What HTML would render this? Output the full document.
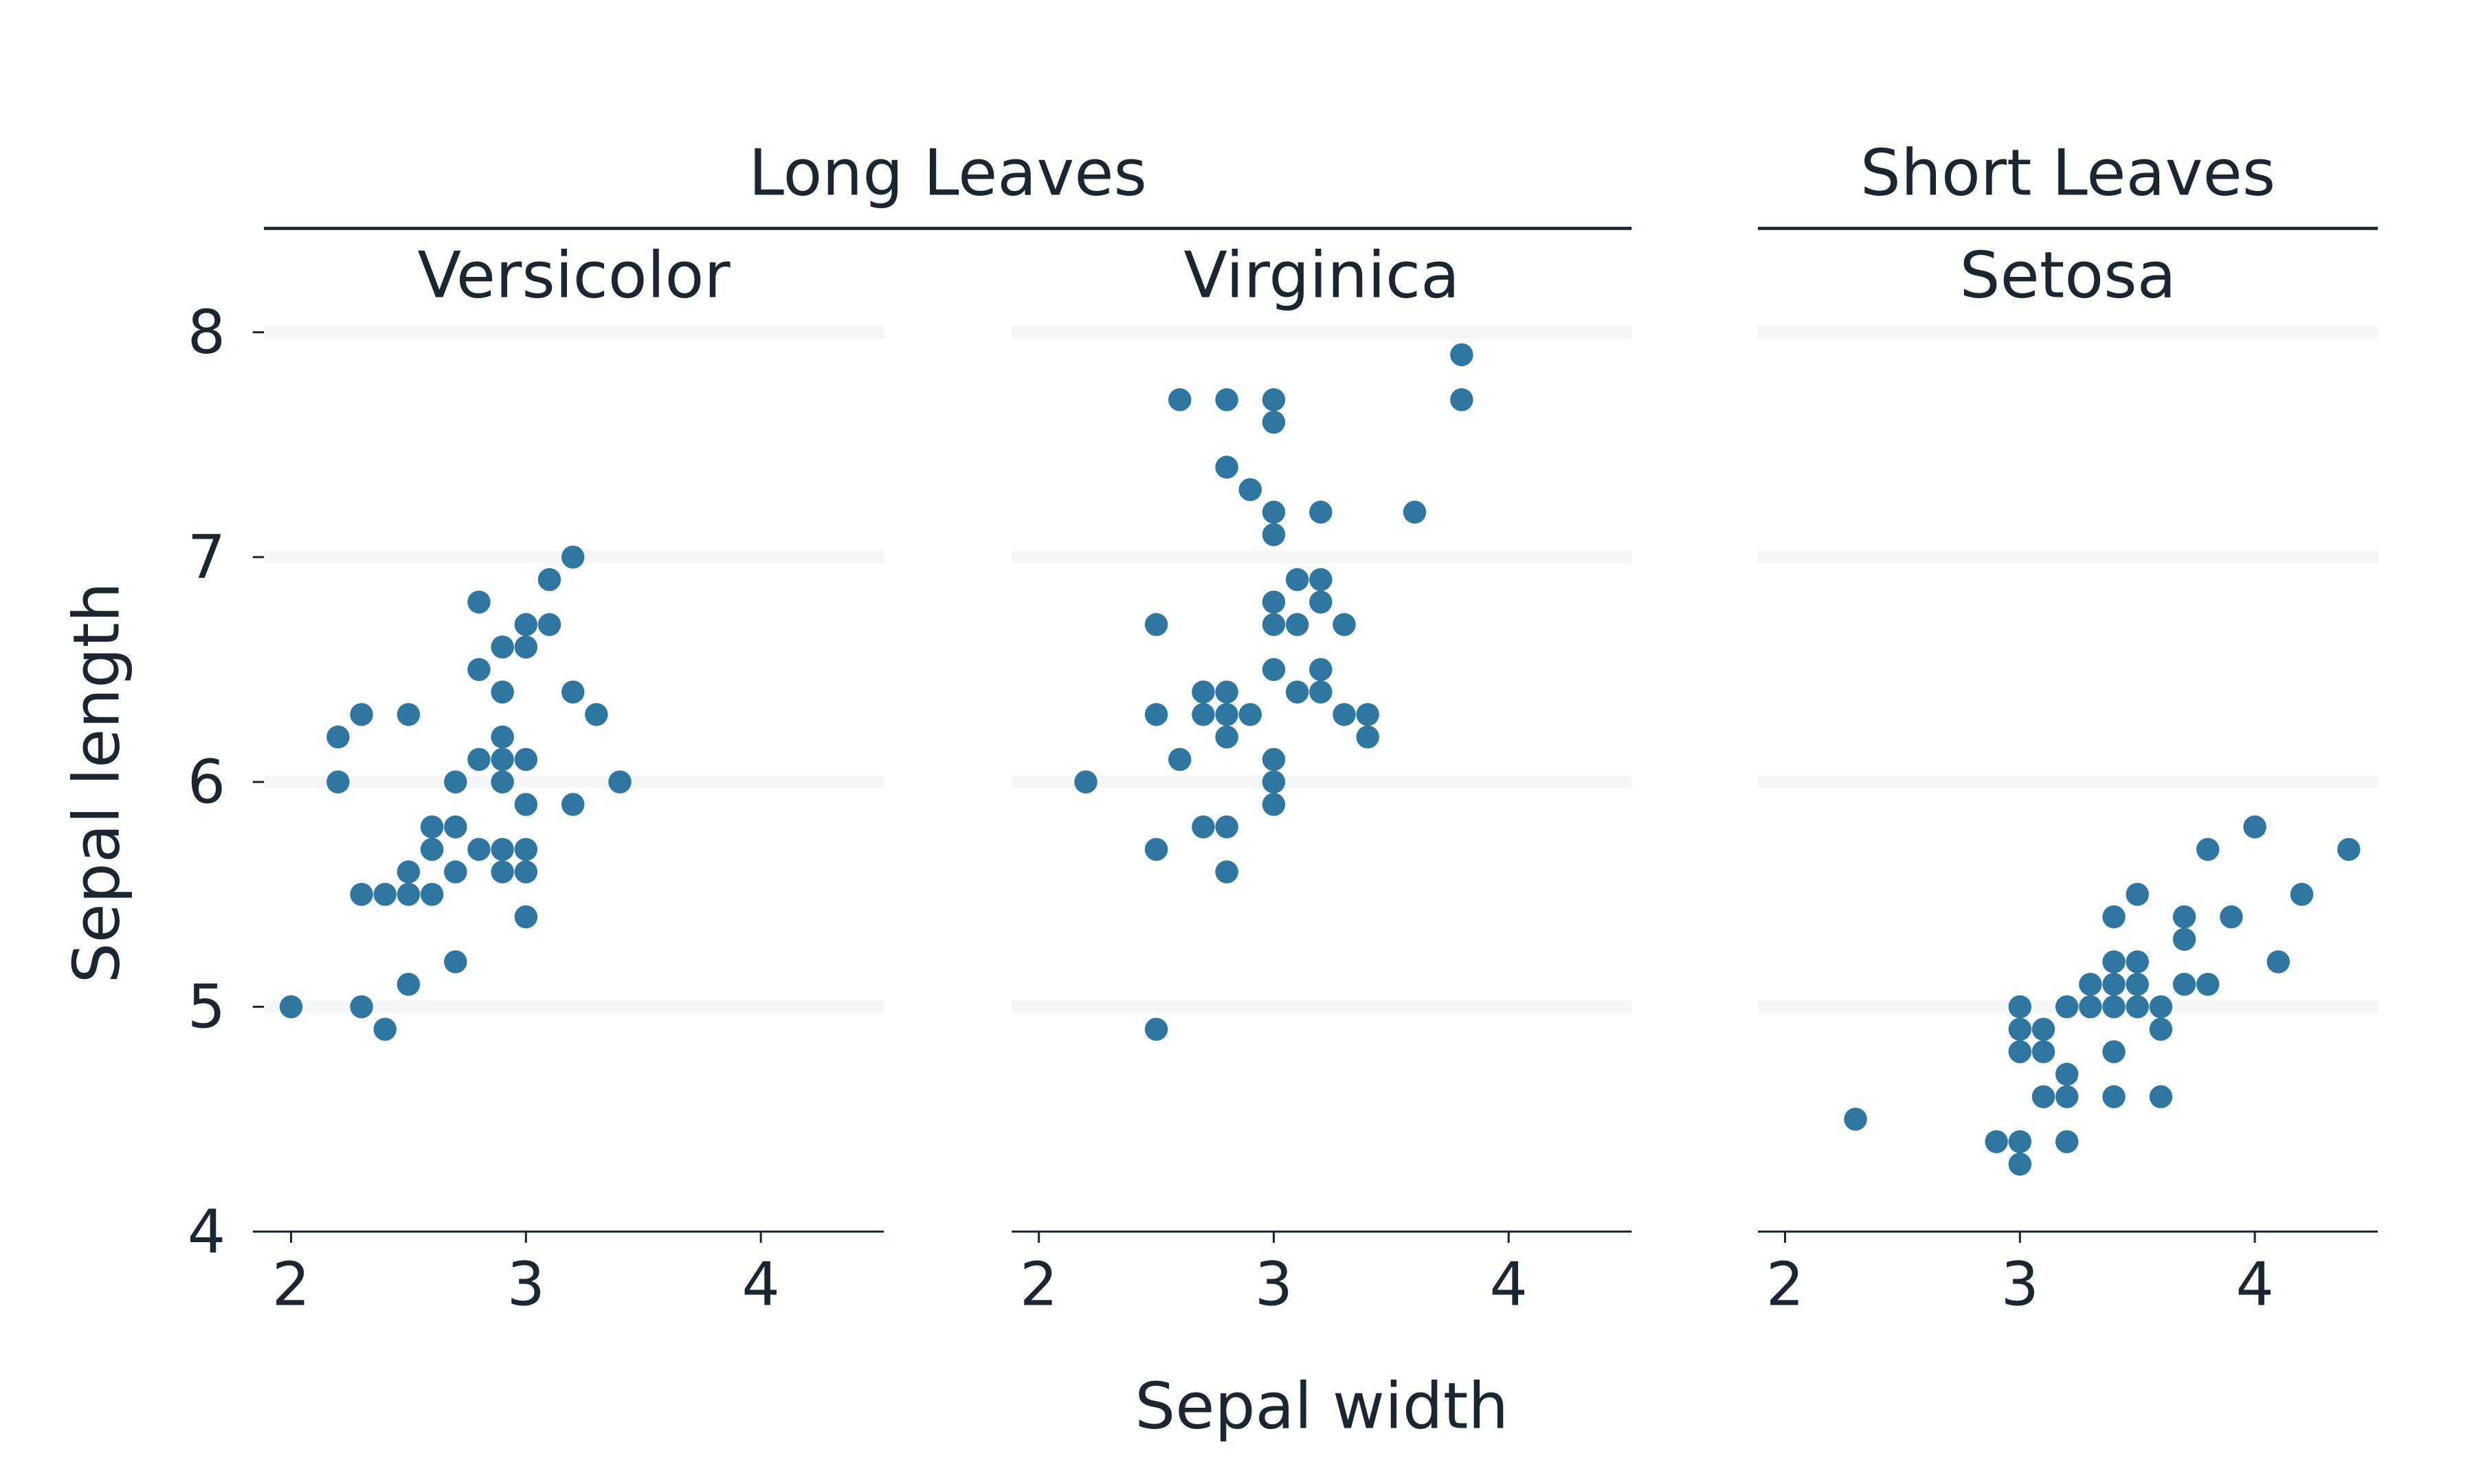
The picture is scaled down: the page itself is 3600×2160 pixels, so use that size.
<!DOCTYPE html>
<html><head><meta charset="utf-8"><style>
html,body{margin:0;padding:0;background:#fff;}
svg{display:block;font-family:"DejaVu Sans","Liberation Sans",sans-serif;}
</style></head><body>
<svg id="chart" xmlns="http://www.w3.org/2000/svg" width="3600" height="2160" viewBox="0 0 1548 929">
<g id="root"></g>
</svg>
<script>
const panelNames = ["Versicolor", "Virginica", "Setosa"];
const xTicks = [2, 3, 4];
const yTicks = [4, 5, 6, 7, 8];
const versicolorX = [2.0,2.2,2.2,2.3,2.3,2.3,2.4,2.4,2.5,2.5,2.5,2.5,2.6,2.6,2.6,2.7,2.7,2.7,2.7,2.8,2.8,2.8,2.8,2.9,2.9,2.9,2.9,2.9,2.9,2.9,3.0,3.0,3.0,3.0,3.0,3.0,3.0,3.1,3.1,3.2,3.2,3.2,3.3,3.4];
const versicolorY = [5.0,6.2,6.0,6.3,5.5,5.0,5.5,4.9,6.3,5.6,5.5,5.1,5.8,5.7,5.5,6.0,5.8,5.6,5.2,6.8,6.5,6.1,5.7,6.6,6.4,6.2,6.1,6.0,5.7,5.6,6.7,6.6,6.1,5.9,5.7,5.6,5.4,6.9,6.7,7.0,6.4,5.9,6.3,6.0];
const virginicaX = [2.2,2.5,2.5,2.5,2.5,2.6,2.6,2.7,2.7,2.7,2.8,2.8,2.8,2.8,2.8,2.8,2.8,2.9,2.9,3.0,3.0,3.0,3.0,3.0,3.0,3.0,3.0,3.0,3.0,3.1,3.1,3.1,3.2,3.2,3.2,3.2,3.2,3.3,3.3,3.4,3.4,3.6,3.8,3.8];
const virginicaY = [6.0,6.7,6.3,5.7,4.9,7.7,6.1,6.4,6.3,5.8,7.7,7.4,6.4,6.3,6.2,5.8,5.6,7.3,6.3,7.7,7.6,7.2,7.1,6.8,6.7,6.5,6.1,6.0,5.9,6.9,6.7,6.4,7.2,6.9,6.8,6.5,6.4,6.7,6.3,6.3,6.2,7.2,7.9,7.7];
const setosaX = [2.3,2.9,3.0,3.0,3.0,3.0,3.0,3.1,3.1,3.1,3.2,3.2,3.2,3.2,3.3,3.3,3.4,3.4,3.4,3.4,3.4,3.4,3.5,3.5,3.5,3.5,3.6,3.6,3.6,3.7,3.7,3.7,3.8,3.8,3.9,4.0,4.1,4.2,4.4];
const setosaY = [4.5,4.4,5.0,4.9,4.8,4.4,4.3,4.9,4.8,4.6,5.0,4.7,4.6,4.4,5.1,5.0,5.4,5.2,5.1,5.0,4.8,4.6,5.5,5.2,5.1,5.0,5.0,4.9,4.6,5.4,5.3,5.1,5.7,5.1,5.4,5.8,5.2,5.5,5.7];

const NS = "http://www.w3.org/2000/svg";
const root = document.getElementById("root");
const TXT = "#1b2633";
function mk(tag, attrs, text){
  const e = document.createElementNS(NS, tag);
  for (const k in attrs) e.setAttribute(k, attrs[k]);
  if (text !== undefined) e.textContent = text;
  root.appendChild(e);
  return e;
}
const panelLeft = [165, 633, 1100];
const panelW = 388;
const xMin = 2 - 17/147, xMax = 2 + 371/147;
const yTop = 208, yBottom = 771;
function xs(p, v){ return panelLeft[p] + (v - xMin) / (xMax - xMin) * panelW; }
function ys(v){ return yBottom - (v - 4) / (8 - 4) * (yBottom - yTop); }

const series = [[versicolorX, versicolorY],[virginicaX, virginicaY],[setosaX, setosaY]];

for (let p = 0; p < 3; p++){
  for (const t of yTicks){
    if (t === 4) continue;
    const g = mk("rect",{x:panelLeft[p], y:ys(t)-4, width:panelW, height:8, fill:"#f4f6f8"});
    
    
  }
  const ax = mk("line",{x1:panelLeft[p], x2:panelLeft[p]+panelW, y1:yBottom, y2:yBottom, stroke:TXT, "stroke-width":1.3});
  
  
  for (const t of xTicks){
    const tk = mk("line",{x1:xs(p,t), x2:xs(p,t), y1:yBottom, y2:yBottom+7, stroke:TXT, "stroke-width":1.3});
    
    
    const tl = mk("text",{x:xs(p,t), y:yBottom+46, "text-anchor":"middle", "font-size":37.5, fill:TXT}, String(t));
    
    
  }
  const st = mk("text",{x:panelLeft[p]+panelW/2, y:186, "text-anchor":"middle", "font-size":40, fill:TXT}, panelNames[p]);
  
  
  const [X, Y] = series[p];
  for (let i = 0; i < X.length; i++){
    const c = mk("circle",{cx:xs(p,X[i]), cy:ys(Y[i]), r:7.2, fill:"#2f77a0"});
    
    
  }
}
for (const t of yTicks){
  const tk = mk("line",{x1:158, x2:165, y1:ys(t), y2:ys(t), stroke:TXT, "stroke-width":1.3});
  
  
  const tl = mk("text",{x:141, y:ys(t)+13, "text-anchor":"end", "font-size":37.5, fill:TXT}, String(t));
  
  
}
const g1 = mk("text",{x:593, y:122, "text-anchor":"middle", "font-size":40, fill:TXT}, "Long Leaves");


const l1 = mk("line",{x1:165, x2:1021, y1:143, y2:143, stroke:TXT, "stroke-width":2});


const g2 = mk("text",{x:1294, y:122, "text-anchor":"middle", "font-size":40, fill:TXT}, "Short Leaves");


const l2 = mk("line",{x1:1100, x2:1488, y1:143, y2:143, stroke:TXT, "stroke-width":2});


const xt = mk("text",{x:827, y:894, "text-anchor":"middle", "font-size":40, fill:TXT}, "Sepal width");


const yt = mk("text",{x:0, y:0, "text-anchor":"middle", "font-size":40, fill:TXT, transform:"translate(74,490) rotate(-90)"}, "Sepal length");


</script>
</body></html>
